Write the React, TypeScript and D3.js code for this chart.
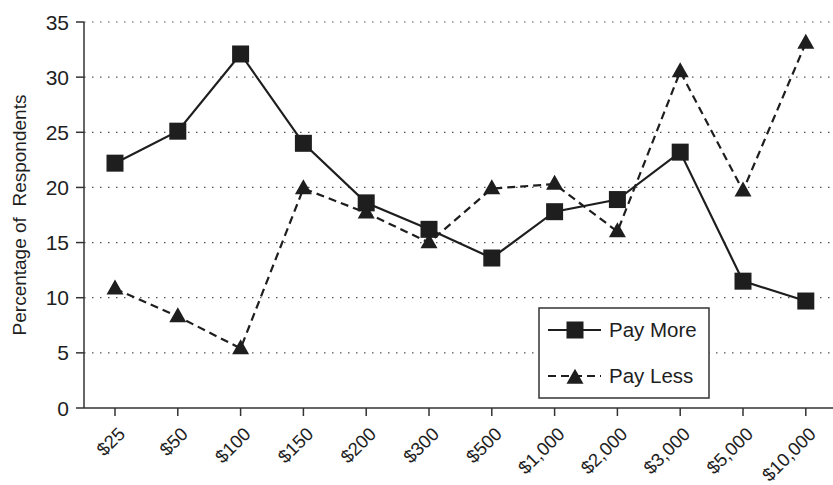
import React from "react";
import * as d3 from "d3";

const categories = ["$25", "$50", "$100", "$150", "$200", "$300", "$500", "$1,000", "$2,000", "$3,000", "$5,000", "$10,000"];
const payMore = [22.2, 25.1, 32.1, 24.0, 18.6, 16.2, 13.6, 17.8, 18.9, 23.2, 11.5, 9.7];
const payLess = [10.8, 8.3, 5.4, 19.9, 17.7, 15.0, 19.9, 20.3, 16.0, 30.5, 19.7, 33.1];
const yTicks = [0, 5, 10, 15, 20, 25, 30, 35];
const seriesNames = ["Pay More", "Pay Less"];

const W = 833, H = 485;
const left = 84, top = 22, bottom = 408;
const font = "'Liberation Sans', Arial, Helvetica, sans-serif";
const ink = "#1e1e1e";

export default function App() {
  const x = d3.scaleBand<string>().domain(categories).range([83.6, 83.6 + 12 * 62.8]);
  const y = d3.scaleLinear().domain([0, 35]).range([bottom, top]);
  const cx = (c: string) => (x(c) as number) + x.bandwidth() / 2;
  const line = d3.line<number>().x((_, i) => cx(categories[i])).y((d) => y(d));
  const sq = 17;
  const tri = (px: number, py: number, s = 17) => {
    const h = s * 0.88;
    return `M${px},${py - h * 0.62} L${px + s / 2},${py + h * 0.38} L${px - s / 2},${py + h * 0.38} Z`;
  };
  return (
    <svg width={W} height={H} style={{ position: "absolute", left: 0, top: 0, background: "#fff" }}>
      <rect width={W} height={H} fill="#fff" />
      {yTicks.filter((t) => t > 0).map((t) => (
        <line key={t} x1={left} x2={W} y1={y(t)} y2={y(t)} stroke="#555" strokeWidth={1.2} strokeDasharray="1.5,6.5" />
      ))}
      <line x1={left} x2={left} y1={top} y2={bottom} stroke="#333" strokeWidth={1.5} />
      <line x1={left} x2={W} y1={bottom} y2={bottom} stroke="#333" strokeWidth={1.5} />
      {yTicks.map((t) => (
        <g key={t}>
          <line x1={76} x2={left} y1={y(t)} y2={y(t)} stroke="#333" strokeWidth={1.5} />
          <text x={69} y={y(t)} dy="0.36em" textAnchor="end" fontFamily={font} fontSize={21} fill={ink}>{t}</text>
        </g>
      ))}
      {categories.map((c) => (
        <g key={c}>
          <line x1={cx(c)} x2={cx(c)} y1={bottom} y2={bottom + 8} stroke="#333" strokeWidth={1.5} />
          <text transform={`translate(${cx(c) + 2},${bottom + 18}) rotate(-45)`} textAnchor="end" dy="0.7em" fontFamily={font} fontSize={18.5} fill={ink}>{c}</text>
        </g>
      ))}
      <text transform={`translate(26,${(top + bottom) / 2}) rotate(-90)`} textAnchor="middle" fontFamily={font} fontSize={19} fill={ink} style={{ whiteSpace: "pre" }}>Percentage of  Respondents</text>
      <path d={line(payLess) || ""} fill="none" stroke={ink} strokeWidth={2.2} strokeDasharray="8,5" />
      <path d={line(payMore) || ""} fill="none" stroke={ink} strokeWidth={2.2} />
      {payMore.map((v, i) => (
        <rect key={"m" + i} x={cx(categories[i]) - sq / 2} y={y(v) - sq / 2} width={sq} height={sq} fill={ink} />
      ))}
      {payLess.map((v, i) => (
        <path key={"l" + i} d={tri(cx(categories[i]), y(v))} fill={ink} />
      ))}
      <g>
        <rect x={539} y={308} width={170} height={90} fill="#fff" stroke="#333" strokeWidth={1.5} />
        <line x1={548} x2={601} y1={330} y2={330} stroke={ink} strokeWidth={2.2} />
        <rect x={575 - sq / 2} y={330 - sq / 2} width={sq} height={sq} fill={ink} />
        <text x={609} y={330} dy="0.36em" fontFamily={font} fontSize={20.5} fill={ink}>{seriesNames[0]}</text>
        <line x1={548} x2={601} y1={376} y2={376} stroke={ink} strokeWidth={2.2} strokeDasharray="8,5" />
        <path d={tri(575, 378)} fill={ink} />
        <text x={609} y={376} dy="0.36em" fontFamily={font} fontSize={20.5} fill={ink}>{seriesNames[1]}</text>
      </g>
    </svg>
  );
}
